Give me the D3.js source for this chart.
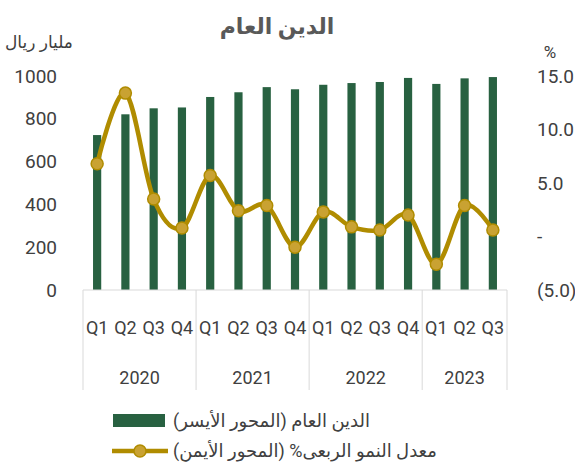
<!DOCTYPE html>
<html>
<head>
<meta charset="utf-8">
<script src="https://cdn.jsdelivr.net/npm/d3@7"></script>
<style>
  body { margin: 0; background: #fff; }
  text { font-family: Roboto, "DejaVu Sans", sans-serif; fill: #404040; }
</style>
</head>
<body>
<svg id="chart" width="575" height="463"></svg>
<script>
// quarterly public debt (billion riyal) and quarterly growth (%)
var quarters = ["Q1", "Q2", "Q3", "Q4", "Q1", "Q2", "Q3", "Q4", "Q1", "Q2", "Q3", "Q4", "Q1", "Q2", "Q3"];
var years = ["2020", "2020", "2020", "2020", "2021", "2021", "2021", "2021", "2022", "2022", "2022", "2022", "2023", "2023", "2023"];
var debt = [724, 821, 849, 853, 902, 924, 948, 938, 959, 967, 972, 991, 963, 989, 995];
var growth = [6.8, 13.4, 3.5, 0.8, 5.7, 2.4, 2.9, -1.0, 2.3, 0.9, 0.6, 2.0, -2.6, 2.9, 0.6];
var leftTicks = [0, 200, 400, 600, 800, 1000];
var rightTicks = [-5, 0, 5, 10, 15];

var barColor = "#286141";
var lineColor = "#b08c00";
var dotColor = "#c9a232";

var svg = d3.select("#chart");

var keys = d3.range(quarters.length);

var x = d3.scaleBand()
  .domain(keys)
  .range([83, 507])
  .paddingInner(0.71)
  .paddingOuter(0.355);

var yLeft = d3.scaleLinear().domain([0, 1000]).range([290, 76]);
var yRight = d3.scaleLinear().domain([-5, 15]).range([290, 76]);

// title
svg.append("text")
  .attr("x", 277)
  .attr("y", 34)
  .attr("text-anchor", "middle")
  .attr("font-size", "22px")
  .attr("font-weight", "bold")
  .style("fill", "#595959")
  .text("الدين العام");

svg.append("text")
  .attr("x", 39)
  .attr("y", 48)
  .attr("text-anchor", "middle")
  .attr("font-size", "17px")
  .text("مليار ريال");

svg.append("text")
  .attr("x", 550)
  .attr("y", 58)
  .attr("text-anchor", "middle")
  .attr("font-size", "17px")
  .text("%");

// left axis
var leftAxis = svg.append("g")
  .attr("transform", "translate(60,0)")
  .call(d3.axisLeft(yLeft).tickValues(leftTicks).tickSize(0).tickPadding(3)
    .tickFormat(d3.format("d")));
leftAxis.select(".domain").remove();
leftAxis.selectAll("text")
  .attr("font-size", "19px")
  .style("font-family", "Roboto, sans-serif");

// right axis
var rightAxis = svg.append("g")
  .attr("transform", "translate(530,0)")
  .call(d3.axisRight(yRight).tickValues(rightTicks).tickSize(0).tickPadding(7)
    .tickFormat(function(d) {
      if (d === 0) return "-";
      if (d < 0) return "(" + Math.abs(d).toFixed(1) + ")";
      return d.toFixed(1);
    }));
rightAxis.select(".domain").remove();
rightAxis.selectAll("text")
  .attr("font-size", "19px")
  .style("font-family", "Roboto, sans-serif");

// bars
svg.selectAll(".bar")
  .data(keys)
  .enter()
  .append("rect")
  .attr("class", "bar")
  .attr("x", function(i) { return x(i); })
  .attr("y", function(i) { return yLeft(debt[i]); })
  .attr("width", x.bandwidth())
  .attr("height", function(i) { return yLeft(0) - yLeft(debt[i]); })
  .attr("fill", barColor);

// category axis
var step = x.step();
var x0 = x.range()[0];
var x1 = x.range()[1];
svg.append("line")
  .attr("x1", x0).attr("x2", x1)
  .attr("y1", 290).attr("y2", 290)
  .attr("stroke", "#d9d9d9").attr("stroke-width", 1);

var yearGroups = d3.groups(keys, function(i) { return years[i]; });
var bounds = [x0];
yearGroups.forEach(function(g) {
  bounds.push(x0 + step * (g[1][g[1].length - 1] + 1));
});
svg.selectAll(".sep")
  .data(bounds)
  .enter()
  .append("line")
  .attr("x1", function(d) { return d; })
  .attr("x2", function(d) { return d; })
  .attr("y1", 290).attr("y2", 390)
  .attr("stroke", "#d9d9d9").attr("stroke-width", 1);

svg.selectAll(".qlab")
  .data(keys)
  .enter()
  .append("text")
  .attr("x", function(i) { return x(i) + x.bandwidth() / 2; })
  .attr("y", 334)
  .attr("text-anchor", "middle")
  .attr("font-size", "18px")
  .text(function(i) { return quarters[i]; });

svg.selectAll(".ylab")
  .data(yearGroups)
  .enter()
  .append("text")
  .attr("x", function(g) {
    var a = g[1][0], b = g[1][g[1].length - 1];
    return (x(a) + x(b) + x.bandwidth()) / 2;
  })
  .attr("y", 384)
  .attr("text-anchor", "middle")
  .attr("font-size", "18px")
  .text(function(g) { return g[0]; });

// growth line
var line = d3.line()
  .x(function(i) { return x(i) + x.bandwidth() / 2; })
  .y(function(i) { return yRight(growth[i]); })
  .curve(d3.curveCatmullRom.alpha(0));

svg.append("path")
  .datum(keys)
  .attr("d", line)
  .attr("fill", "none")
  .attr("stroke", lineColor)
  .attr("stroke-width", 4.5);

svg.selectAll(".dot")
  .data(keys)
  .enter()
  .append("circle")
  .attr("cx", function(i) { return x(i) + x.bandwidth() / 2; })
  .attr("cy", function(i) { return yRight(growth[i]); })
  .attr("r", 6)
  .attr("fill", dotColor)
  .attr("stroke", lineColor)
  .attr("stroke-width", 1.5);

// legend
var legend = svg.append("g");
legend.append("rect")
  .attr("x", 113).attr("y", 414)
  .attr("width", 52).attr("height", 13)
  .attr("fill", barColor);
legend.append("text")
  .attr("x", 173).attr("y", 427)
  .attr("direction", "rtl")
  .attr("text-anchor", "end")
  .attr("font-size", "18px")
  .text("الدين العام (المحور الأيسر)");

legend.append("line")
  .attr("x1", 112).attr("x2", 168)
  .attr("y1", 451).attr("y2", 451)
  .attr("stroke", lineColor).attr("stroke-width", 4.5);
legend.append("circle")
  .attr("cx", 140).attr("cy", 451).attr("r", 6)
  .attr("fill", dotColor)
  .attr("stroke", lineColor).attr("stroke-width", 1.5);
legend.append("text")
  .attr("x", 173).attr("y", 457)
  .attr("direction", "rtl")
  .attr("text-anchor", "end")
  .attr("font-size", "18px")
  .text("معدل النمو الربعى% (المحور الأيمن)");
</script>
</body>
</html>
